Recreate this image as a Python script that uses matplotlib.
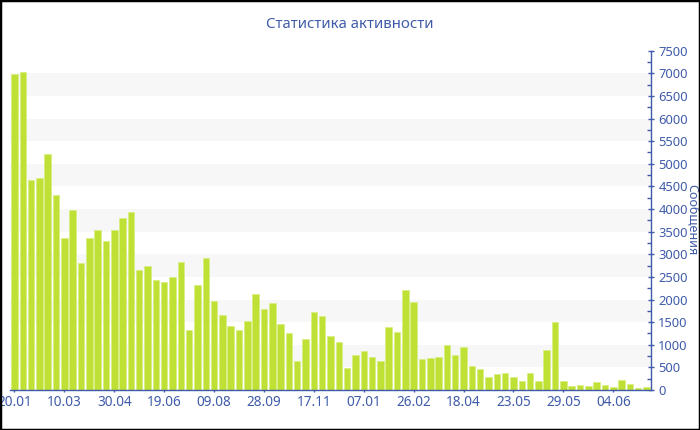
import matplotlib
matplotlib.use('Agg')
import matplotlib.pyplot as plt
from matplotlib.patches import Rectangle
from matplotlib.ticker import MultipleLocator

# значения по неделям (сообщения)
values = [
    6980, 7030, 4640, 4690, 5220, 4300, 3360, 3970, 2810, 3350,
    3530, 3290, 3540, 3800, 3930, 2660, 2750, 2430, 2380, 2490,
    2830, 1330, 2310, 2910, 1960, 1665, 1420, 1326, 1525, 2120,
    1800, 1915, 1450, 1250, 635, 1135, 1730, 1635, 1200, 1070,
    485, 765, 860, 720, 635, 1385, 1290, 2200, 1955, 680,
    715, 730, 995, 775, 960, 530, 465, 290, 355, 370,
    280, 205, 370, 190, 885, 1495, 205, 90, 120, 90,
    185, 110, 65, 215, 135, 50, 75,
]
tick_labels = ['20.01', '10.03', '30.04', '19.06', '09.08', '28.09', '17.11',
               '07.01', '26.02', '18.04', '23.05', '29.05', '04.06']
tick_step = 6

title = 'Статистика активности'
ylabel = 'Сообщения'

blue = '#3f5ba9'
bar_color = '#bfe034'

plt.rcParams['font.family'] = ['Noto Sans', 'DejaVu Sans']

fig = plt.figure(figsize=(7, 4.3), dpi=100)
ax = fig.add_axes([10.3 / 700, 40 / 430, 640.4 / 700, 339.3 / 430])

# чередующиеся полосы фона
for lo in range(500, 7500, 1000):
    ax.axhspan(lo, lo + 500, color='#f7f7f7', lw=0, zorder=0)

x = range(len(values))
ax.bar(x, values, width=0.78, color=bar_color, edgecolor='#d8ee80',
       linewidth=0.5, zorder=2)

ax.set_xlim(-0.5, len(values) - 0.5)
ax.set_ylim(0, 7500)

ax.set_xticks(list(range(0, len(values), tick_step))[:len(tick_labels)])
ax.set_xticklabels(tick_labels)

ax.yaxis.tick_right()
ax.yaxis.set_major_locator(MultipleLocator(500))
ax.yaxis.set_minor_locator(MultipleLocator(250))

for side in ['left', 'top']:
    ax.spines[side].set_visible(False)
for side in ['right', 'bottom']:
    ax.spines[side].set_color(blue)
    ax.spines[side].set_linewidth(1)

ax.tick_params(axis='x', colors=blue, labelsize=9.8, length=3, width=1,
               direction='inout', pad=2)
ax.tick_params(axis='y', which='major', colors=blue, labelsize=9.3,
               length=5, width=1, direction='inout', pad=3)
ax.tick_params(axis='y', which='minor', colors=blue, length=3, width=1,
               direction='in')

# подпись оси справа, у самого края рамки
fig.text(693 / 700, 1 - 220 / 430, ylabel, color=blue, fontsize=9,
         rotation=-90, ha='center', va='center')
fig.text(0.5, 1 - 25 / 430, title, color=blue, fontsize=10.8,
         ha='center', va='center')

fig.patches.append(Rectangle((0, 0), 1, 1, transform=fig.transFigure,
                             fill=False, edgecolor='black', linewidth=2.5,
                             zorder=10))

fig.savefig('out.png', dpi=100, facecolor='white')
